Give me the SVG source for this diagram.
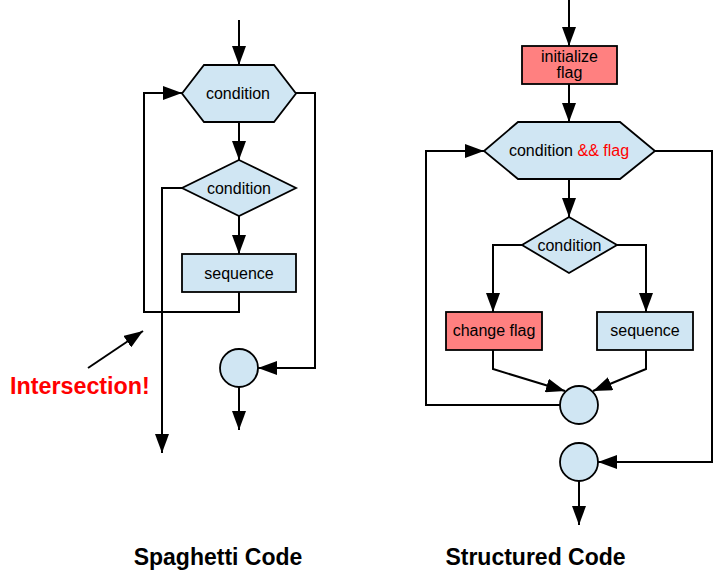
<svg xmlns="http://www.w3.org/2000/svg" width="713" height="575" viewBox="0 0 713 575">
<defs>
<marker id="ah" markerUnits="userSpaceOnUse" markerWidth="19" markerHeight="14" refX="19" refY="7" orient="auto">
<path d="M0,0 L19,7 L0,14 z" fill="#000"/>
</marker>
<style>
.c{fill:none;stroke:#000;stroke-width:2;marker-end:url(#ah)}
.b{fill:#D0E6F3;stroke:#000;stroke-width:1.8}
.r{fill:#FF8080;stroke:#000;stroke-width:1.8}
.t{font-family:"Liberation Sans",Arial,sans-serif;font-size:16px;fill:#000;text-anchor:middle}
.h{font-family:"Liberation Sans",Arial,sans-serif;font-size:23px;font-weight:bold;fill:#000;text-anchor:middle}
.red{fill:#FF0000}
</style>
</defs>
<rect width="713" height="575" fill="#fff"/>
<g id="connectors">
<path class="c" d="M239,20 V65"/>
<path class="c" d="M239,122 V160"/>
<path class="c" d="M239,216 V254"/>
<path class="c" d="M239,292 V312 H144 V93 H182"/>
<path class="c" d="M296,93 H315 V368 H258"/>
<path class="c" d="M182,188 H162 V453"/>
<path class="c" d="M239,387 V430"/>
<path class="c" d="M88,368 L143,331"/>
<path class="c" d="M569,0 V46"/>
<path class="c" d="M569,84 V122"/>
<path class="c" d="M569,179 V217"/>
<path class="c" d="M522,245 H493 V312"/>
<path class="c" d="M617,245 H646 V312"/>
<path class="c" d="M493,350 V369 L565,391"/>
<path class="c" d="M646,350 V369 L593,391"/>
<path class="c" d="M560,405 H426 V151 H484"/>
<path class="c" d="M655,151 H712 V462 H598"/>
<path class="c" d="M579,481 V525"/>
</g>
<g id="s-cond1"><polygon class="b" points="204,65 274,65 296,93.5 274,122 204,122 182,93.5"/><text class="t" x="238" y="99">condition</text></g>
<g id="s-cond2"><polygon class="b" points="239,160 296,188 239,216 182,188"/><text class="t" x="239" y="193.5">condition</text></g>
<g id="s-seq"><rect class="b" x="182" y="254" width="114" height="38"/><text class="t" x="239" y="278.5">sequence</text></g>
<g id="s-end"><circle class="b" cx="239" cy="368" r="19"/></g>
<g id="intersection"><text x="10" y="394" font-family="'Liberation Sans',Arial,sans-serif" font-size="23.3" font-weight="bold" fill="#FF0000">Intersection!</text></g>
<g id="r-init"><rect class="r" x="522" y="46" width="95" height="38"/><text class="t" x="569.5" y="62">initialize</text><text class="t" x="569.5" y="78">flag</text></g>
<g id="r-cond1"><polygon class="b" points="518,122 620,122 655,151 620,179 518,179 484,151"/><text class="t" x="569" y="156">condition <tspan class="red">&amp;&amp; flag</tspan></text></g>
<g id="r-cond2"><polygon class="b" points="569,217 617,245 569,273 522,245"/><text class="t" x="569.5" y="250.5">condition</text></g>
<g id="r-change"><rect class="r" x="446" y="312" width="96" height="38"/><text class="t" x="494" y="335.5">change flag</text></g>
<g id="r-seq"><rect class="b" x="597" y="312" width="96" height="38"/><text class="t" x="645" y="335.5">sequence</text></g>
<g id="r-join"><circle class="b" cx="579" cy="405" r="19"/></g>
<g id="r-end"><circle class="b" cx="579" cy="462" r="19"/></g>
<g id="titles"><text class="h" x="218" y="565">Spaghetti Code</text><text class="h" x="535.5" y="565">Structured Code</text></g>
</svg>
